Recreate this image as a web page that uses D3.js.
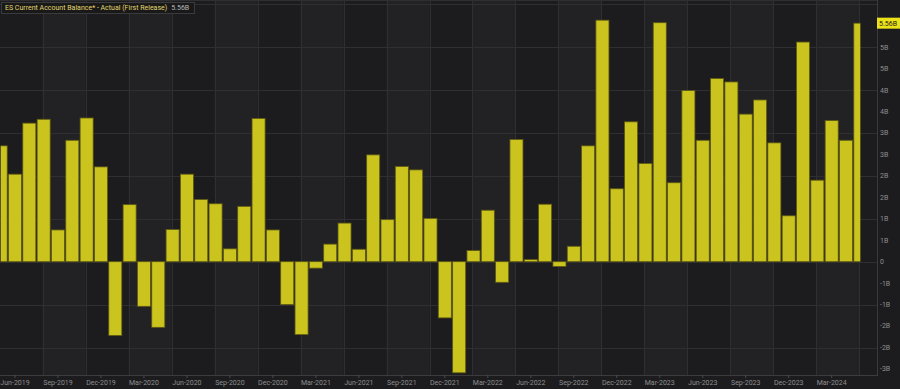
<!DOCTYPE html>
<html lang="en">
<meta charset="UTF-8">
<title>ES Current Account Balance</title>
<script src="https://d3js.org/d3.v7.min.js"></script>
<style>
html, body {margin: 0; padding: 0; background: #1c1c1e;}
svg {display: block; font-family: Roboto, sans-serif;}
</style>
<body>
<div id="chart"></div>
<script>
// monthly first releases, May 2019 .. May 2024 (billions EUR)
var months = d3.timeMonth.range(new Date(2019, 4, 1), new Date(2024, 5, 1)).map(d3.timeFormat("%b-%Y"));
var values = [
  2.70, 2.04, 3.23, 3.32, 0.74, 2.83, 3.35, 2.21, -1.72, 1.33, -1.04, -1.53,
  0.75, 2.04, 1.45, 1.35, 0.30, 1.29, 3.34, 0.74, -1.00, -1.70, -0.15, 0.41,
  0.90, 0.29, 2.49, 0.98, 2.22, 2.14, 1.01, -1.31, -2.59, 0.26, 1.20, -0.48,
  2.85, 0.05, 1.34, -0.11, 0.36, 2.70, 5.63, 1.70, 3.26, 2.29, 5.57, 1.84,
  3.99, 2.83, 4.27, 4.19, 3.44, 3.77, 2.77, 1.07, 5.12, 1.90, 3.29, 2.83,
  5.56
];
var xTickLabels = ["Jun-2019", "Sep-2019", "Dec-2019", "Mar-2020", "Jun-2020", "Sep-2020",
  "Dec-2020", "Mar-2021", "Jun-2021", "Sep-2021", "Dec-2021", "Mar-2022", "Jun-2022",
  "Sep-2022", "Dec-2022", "Mar-2023", "Jun-2023", "Sep-2023", "Dec-2023", "Mar-2024"];
// the 5.5 label sits under the last-value marker, so it is left out
var yTickValues = [-2.5, -2, -1.5, -1, -0.5, 0, 0.5, 1, 1.5, 2, 2.5, 3, 3.5, 4, 4.5, 5];
var yGridValues = [-2, -1, 0, 1, 2, 3, 4, 5, 6];
var seriesName = "ES Current Account Balance* - Actual (First Release)";
var lastLabel = "5.56B";

var W = 900, H = 389;
var plot = {left: 0, right: 877, top: 1, bottom: 375};

var svg = d3.select("#chart").append("svg")
  .attr("width", W)
  .attr("height", H);

svg.append("rect").attr("width", W).attr("height", H).attr("fill", "#1c1c1e");

var x = d3.scaleBand()
  .domain(months)
  .range([-6.5, 867.5])
  .paddingInner(0.09)
  .paddingOuter(0.045);

var y = d3.scaleLinear()
  .domain([-2.641, 6.1])
  .range([plot.bottom, 0]);

function cx(m) { return x(m) + x.bandwidth() / 2; }

// vertical grid sits two months after each labelled month
var gridX = xTickLabels.map(function(t) {
  return cx(months[months.indexOf(t) + 2]) - 1;
});

// alternating column shading
var bands = svg.append("g");
gridX.forEach(function(g, k) {
  if (k % 2 === 0 && k + 1 < gridX.length) {
    bands.append("rect")
      .attr("x", g).attr("y", plot.top)
      .attr("width", gridX[k + 1] - g)
      .attr("height", plot.bottom - plot.top)
      .attr("fill", "#222224");
  }
});

var grid = svg.append("g").attr("stroke", "#2f2f31").attr("stroke-width", 1);
grid.selectAll(".vg").data(gridX).enter().append("line")
  .attr("x1", function(d) { return Math.round(d) + 0.5; })
  .attr("x2", function(d) { return Math.round(d) + 0.5; })
  .attr("y1", plot.top).attr("y2", plot.bottom);
grid.selectAll(".hg").data(yGridValues).enter().append("line")
  .attr("x1", plot.left).attr("x2", plot.right)
  .attr("y1", function(d) { return Math.round(y(d)) + 0.5; })
  .attr("y2", function(d) { return Math.round(y(d)) + 0.5; });

// bars, clipped at the centre of the first and last month
var clipX0 = cx(months[0]), clipX1 = cx(months[months.length - 1]);
svg.append("clipPath").attr("id", "clip")
  .append("rect")
  .attr("x", clipX0).attr("y", plot.top)
  .attr("width", clipX1 - clipX0).attr("height", plot.bottom - plot.top);

svg.append("g").attr("clip-path", "url(#clip)")
  .selectAll("rect")
  .data(values)
  .enter().append("rect")
    .attr("x", function(d, i) { return x(months[i]); })
    .attr("y", function(d) { return y(Math.max(0, d)); })
    .attr("width", x.bandwidth())
    .attr("height", function(d) { return Math.abs(y(d) - y(0)); })
    .attr("fill", "#cbc41f")
    .attr("stroke", "#5e5912")
    .attr("stroke-width", 0.8);

// plot border
svg.append("line")
  .attr("x1", plot.right + 0.5).attr("x2", plot.right + 0.5)
  .attr("y1", 0).attr("y2", plot.bottom)
  .attr("stroke", "#3a3a3c");
svg.append("line")
  .attr("x1", 0).attr("x2", plot.right)
  .attr("y1", 0.5).attr("y2", 0.5)
  .attr("stroke", "#2f2f31");

// x axis
var xAxis = svg.append("g")
  .attr("transform", "translate(0," + plot.bottom + ")")
  .call(d3.axisBottom(x).tickValues(xTickLabels).tickSize(3).tickPadding(2));
xAxis.select(".domain").attr("stroke", "#3c3c3e").attr("d", "M0,0.5H" + (plot.right + 1));
xAxis.selectAll(".tick line").attr("stroke", "#4a4a4c");
xAxis.selectAll(".tick text")
  .attr("fill", "#8e8e90")
  .style("font-size", "7px")
  .style("font-family", "Roboto, sans-serif");

// y axis labels on the right
function fmtB(v) {
  if (v === 0) return "0";
  return (v < 0 ? "-" : "") + Math.round(Math.abs(v) + 1e-9) + "B";
}
svg.append("g").selectAll("text")
  .data(yTickValues)
  .enter().append("text")
    .attr("x", 880)
    .attr("y", function(d) { return y(d); })
    .attr("dy", "0.35em")
    .attr("fill", "#8e8e90")
    .style("font-size", "7px")
    .text(fmtB);

// last value marker
var lastY = y(values[values.length - 1]);
svg.append("rect")
  .attr("x", 877).attr("y", lastY - 5.5)
  .attr("width", 23).attr("height", 11)
  .attr("fill", "#ece21a");
svg.append("text")
  .attr("x", 879).attr("y", lastY)
  .attr("dy", "0.35em")
  .attr("fill", "#1a1a1a")
  .style("font-size", "7px")
  .text(lastLabel);

// legend box
svg.append("rect")
  .attr("x", 1.5).attr("y", 2.5)
  .attr("width", 193).attr("height", 11)
  .attr("fill", "#19191a")
  .attr("stroke", "#3a3a3c");
var legend = svg.append("text")
  .attr("x", 5).attr("y", 8)
  .attr("dy", "0.35em")
  .style("font-size", "7px");
legend.append("tspan").attr("fill", "#e2d66a").text(seriesName);
legend.append("tspan").attr("fill", "#b8b8b8").attr("dx", 4).text(lastLabel);
</script>
</body>
</html>
